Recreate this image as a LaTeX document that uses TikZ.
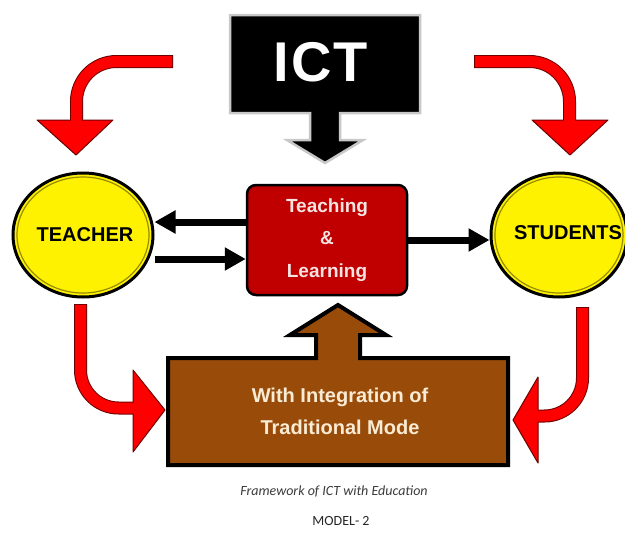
\documentclass[tikz,border=0pt]{standalone}
\usepackage{fontspec}
\setmainfont{Liberation Sans}
\newfontfamily\capfont{Carlito}
\usetikzlibrary{arrows.meta,shapes.geometric}
\definecolor{redbox}{RGB}{192,0,0}
\definecolor{brownbox}{RGB}{153,76,10}
\definecolor{arrowred}{RGB}{255,0,0}
\definecolor{arrowedge}{RGB}{110,0,0}
\definecolor{ringolive}{RGB}{150,140,0}
\definecolor{lighttext}{RGB}{245,228,225}
\definecolor{creamtext}{RGB}{250,236,212}
\definecolor{captiongray}{RGB}{60,60,60}
\definecolor{ictedge}{RGB}{200,200,200}
\begin{document}
\begin{tikzpicture}[x=1pt,y=-1pt,
  redbar/.style={line width=13pt,draw=arrowedge},
  redbarin/.style={line width=11pt,draw=arrowred},
  redhead/.style={fill=arrowred,draw=arrowedge,line width=1pt,line join=round},
  blk/.style={line width=7pt,-{Triangle[length=21pt,width=22pt]}},
  circ/.style={ellipse,fill=yellow,draw=black,line width=3pt,minimum width=140pt,minimum height=124pt,inner sep=0pt,font=\bfseries\fontsize{20}{24}\selectfont},
  ring/.style={draw=ringolive,line width=1.2pt}]
\useasboundingbox (0,0) rectangle (625,536);
\fill[white] (0,0) rectangle (625,536);

% ICT callout
\draw[fill=black,draw=ictedge,line width=2.5pt,line join=miter]
  (230,15) -- (420,15) -- (420,113) -- (340,113) -- (340,140) -- (363,140)
  -- (325,163) -- (287,140) -- (310,140) -- (310,113) -- (230,113) -- cycle;
\node[text=white,font=\bfseries\fontsize{56}{60}\selectfont,inner sep=0pt] (ict) at (321,62) {I\kern2ptC\kern2ptT};

% brown callout
\draw[fill=brownbox,draw=black,line width=4pt,line join=miter]
  (168,358) -- (316,358) -- (316,335) -- (290,335) -- (338,305) -- (386,335)
  -- (360,335) -- (360,358) -- (508,358) -- (508,465) -- (168,465) -- cycle;
\node[text=creamtext,align=center,font=\bfseries\fontsize{20}{32}\selectfont] (trad) at (340,411)
  {With Integration of\\Traditional Mode};

% teaching & learning
\node[rounded corners=9pt,fill=redbox,draw=black,line width=2.5pt,minimum width=160pt,
  minimum height=110pt,align=center,text=lighttext,
  font=\bfseries\fontsize{19}{32.5}\selectfont] (tl) at (327,240) {Teaching\\\&\\Learning};

% circles
\node[circ] (teacher) at (83,235) {};
\draw[ring] (teacher.center) ellipse [x radius=66pt,y radius=58pt];
\node[font=\bfseries\fontsize{20}{24}\selectfont] (teachertext) at (85,235) {TEACHER};
\node[circ,minimum width=136pt] (students) at (559,235) {};
\draw[ring] (students.center) ellipse [x radius=64pt,y radius=58pt];
\node[font=\bfseries\fontsize{20}{24}\selectfont] (studentstext) at (568,233) {STUDENTS};

% black arrows
\draw[blk] ([yshift=18pt]tl.west) -- ([yshift=13pt]teacher.east);
\draw[blk] ([yshift=-24pt]teacher.east) -- ([yshift=-19pt]tl.west);
\draw[blk] (tl.east) -- ([yshift=-5pt]students.west);

% red curved arrows
\coordinate (la) at (173,61.5); \coordinate (lb) at (76.5,61.5); \coordinate (lc) at (76.5,121);
\coordinate (ra) at (474,61.5); \coordinate (rb) at (569.5,61.5); \coordinate (rc) at (569.5,121);
\coordinate (bla) at (80.5,304); \coordinate (blb) at (80.5,408); \coordinate (blc) at (135,408);
\coordinate (bra) at (582.5,307); \coordinate (brb) at (582.5,416); \coordinate (brc) at (536,416);

\draw[redbar,rounded corners=40pt] (la) -- (lb) -- (lc);
\draw[redhead] (37,120) -- (113,120) -- (76,155) -- cycle;
\draw[redbarin,rounded corners=40pt] ([xshift=-1pt]la) -- (lb) -- (lc);

\draw[redbar,rounded corners=40pt] (ra) -- (rb) -- (rc);
\draw[redhead] (532,120) -- (608,120) -- (570,155) -- cycle;
\draw[redbarin,rounded corners=40pt] ([xshift=1pt]ra) -- (rb) -- (rc);

\draw[redbar,rounded corners=38pt] (bla) -- (blb) -- (blc);
\draw[redhead] (133,370) -- (165,410) -- (133,452) -- cycle;
\draw[redbarin,rounded corners=38pt] ([yshift=-1pt]bla) -- (blb) -- (blc);

\draw[redbar,rounded corners=38pt] (bra) -- (brb) -- (brc);
\draw[redhead] (538,377) -- (513,420) -- (538,463) -- cycle;
\draw[redbarin,rounded corners=38pt] ([yshift=-1pt]bra) -- (brb) -- (brc);

% captions
\node[text=captiongray,font=\capfont\itshape\fontsize{14}{16}\selectfont] (cap) at (334,491)
  {Framework of ICT with Education};
\node[text=black!85,font=\capfont\fontsize{14}{16}\selectfont] (model) at (341,521) {MODEL- 2};
\end{tikzpicture}
\end{document}
